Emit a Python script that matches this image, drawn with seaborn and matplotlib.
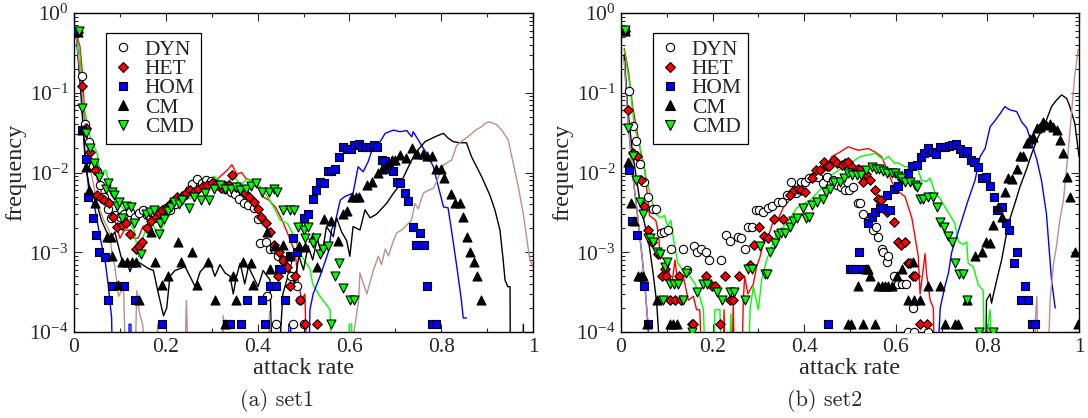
import matplotlib
matplotlib.use("Agg")
import matplotlib.pyplot as plt
import seaborn as sns
from matplotlib.lines import Line2D
from matplotlib.ticker import LogLocator, NullFormatter, MultipleLocator

# ---------------- data: (attack rate, frequency) ----------------
# zero-count bins of the simulation curves are given as 1e-5 (below the axis)
# ===== set1 : markers =====
s1_dyn = [(0.008,0.6),(0.017,0.16),(0.025,0.041),(0.033,0.024),(0.042,0.012),(0.051,0.0105),(0.057,0.007),
          (0.066,0.005),(0.074,0.0035),(0.080,0.0027),(0.090,0.0029),(0.100,0.0028),(0.110,0.0030),(0.123,0.0032),
          (0.132,0.0028),(0.141,0.0031),(0.151,0.0034),(0.160,0.0029),(0.170,0.0031),(0.180,0.0033),(0.190,0.0032),
          (0.200,0.0036),(0.210,0.0034),(0.220,0.0040),(0.230,0.0046),(0.240,0.0052),(0.250,0.0060),(0.258,0.0072),
          (0.267,0.0082),(0.278,0.0074),(0.288,0.0080),(0.298,0.0078),(0.308,0.0071),(0.318,0.0067),(0.328,0.0063),
          (0.341,0.0057),(0.350,0.0054),(0.360,0.0046),(0.370,0.0042),(0.378,0.0039),(0.392,0.0036),(0.400,0.0026),
          (0.405,0.0013),(0.418,0.00135),(0.420,0.00028),(0.428,0.0011),(0.436,0.0011),(0.440,0.000125),(0.445,0.0009),
          (0.455,0.0008),(0.465,0.00075),(0.472,0.0005),(0.478,0.000125),(0.485,0.000375),(0.492,0.00025),(0.500,0.000125)]
s1_het = [(0.008,0.58),(0.017,0.12),(0.026,0.036),(0.035,0.018),(0.045,0.0107),(0.051,0.0052),(0.058,0.0048),
          (0.066,0.0045),(0.076,0.0041),(0.086,0.0028),(0.094,0.0021),(0.104,0.0022),(0.113,0.0023),(0.122,0.0017),
          (0.134,0.0011),(0.142,0.0012),(0.149,0.00135),(0.158,0.0020),(0.168,0.0025),(0.178,0.0028),(0.185,0.0031),
          (0.192,0.0034),(0.200,0.0035),(0.210,0.0040),(0.218,0.0045),(0.225,0.0050),(0.235,0.0048),(0.245,0.0055),
          (0.252,0.0060),(0.262,0.0057),(0.270,0.0063),(0.280,0.0068),(0.290,0.0070),(0.300,0.0074),(0.310,0.0069),
          (0.320,0.0064),(0.330,0.0067),(0.338,0.0070),(0.345,0.0093),(0.352,0.0066),(0.362,0.0062),(0.372,0.0055),
          (0.382,0.0050),(0.392,0.0043),(0.400,0.0035),(0.407,0.0028),(0.418,0.0023),(0.428,0.0018),(0.436,0.00125),
          (0.445,0.0005),(0.447,0.0010),(0.456,0.0008),(0.465,0.00065),(0.471,0.000375),(0.482,0.0005),
          (0.492,0.00025),(0.503,0.000125),(0.529,0.000125)]
s1_hom = [(0.007,0.58),(0.017,0.034),(0.026,0.0147),(0.031,0.0050),(0.041,0.0027),(0.049,0.00165),(0.055,0.0010),
          (0.067,0.00087),(0.075,0.00025),(0.083,0.000375),(0.109,0.000375),(0.133,0.00025),(0.192,0.000125),
          (0.333,0.000125),(0.340,0.000125),(0.363,0.000125),(0.376,0.00025),(0.409,0.00025),(0.416,0.000125),
          (0.427,0.000375),(0.440,0.000375),(0.447,0.000625),(0.452,0.000625),(0.459,0.00025),(0.471,0.0009),
          (0.478,0.0015),(0.485,0.001),(0.500,0.0027),(0.510,0.0030),(0.520,0.0047),(0.527,0.0061),(0.537,0.0077),
          (0.545,0.0073),(0.554,0.0105),(0.561,0.0105),(0.569,0.0112),(0.578,0.0155),(0.585,0.021),(0.594,0.0195),
          (0.603,0.0195),(0.611,0.022),(0.620,0.0228),(0.628,0.021),(0.636,0.021),(0.645,0.021),(0.653,0.022),
          (0.660,0.021),(0.670,0.0145),(0.677,0.014),(0.687,0.011),(0.695,0.0105),(0.703,0.0077),(0.711,0.0073),
          (0.721,0.0056),(0.728,0.0044),(0.738,0.0021),(0.745,0.00125),(0.754,0.00175),(0.763,0.00125),
          (0.770,0.000375),(0.780,0.000125),(0.788,0.000125)]
s1_cm = [(0.008,0.58),(0.017,0.034),(0.026,0.0118),(0.033,0.006),(0.046,0.0041),(0.072,0.00157),(0.080,0.00157),
         (0.083,0.0009),(0.096,0.00039),(0.104,0.00076),(0.115,0.00076),(0.126,0.00076),(0.134,0.00076),
         (0.142,0.00025),(0.167,0.0018),(0.176,0.00076),(0.191,0.00039),(0.205,0.0005),(0.227,0.00135),
         (0.234,0.00076),(0.256,0.001),(0.268,0.00039),(0.292,0.00076),(0.307,0.00025),(0.330,0.000125),
         (0.347,0.0005),(0.353,0.00025),(0.369,0.00076),(0.385,0.00073),(0.390,0.00039),(0.420,0.0018),
         (0.428,0.000625),(0.438,0.0012),(0.455,0.00125),(0.468,0.0009),(0.490,0.0012),(0.503,0.00117),
         (0.521,0.00157),(0.529,0.00066),(0.545,0.0026),(0.561,0.0025),(0.576,0.0014),(0.587,0.003),(0.595,0.0033),
         (0.605,0.005),(0.614,0.005),(0.622,0.005),(0.638,0.007),(0.650,0.0075),(0.663,0.0099),(0.672,0.011),
         (0.682,0.0124),(0.692,0.0144),(0.700,0.0144),(0.710,0.0166),(0.724,0.015),(0.737,0.0202),(0.748,0.0173),
         (0.760,0.0173),(0.768,0.016),(0.779,0.016),(0.788,0.011),(0.799,0.011),(0.806,0.0085),(0.821,0.0054),
         (0.830,0.0041),(0.840,0.0041),(0.847,0.00275),(0.856,0.00157),(0.863,0.001),(0.871,0.00076),
         (0.879,0.0005),(0.886,0.00025)]
s1_cmd = [(0.010,0.6),(0.017,0.064),(0.026,0.031),(0.035,0.020),(0.044,0.013),(0.055,0.0089),(0.069,0.0063),
          (0.075,0.0073),(0.083,0.0057),(0.088,0.0052),(0.094,0.0038),(0.098,0.0043),(0.105,0.0027),(0.113,0.0038),
          (0.124,0.0037),(0.131,0.0023),(0.145,0.00096),(0.156,0.0030),(0.165,0.0032),(0.174,0.0034),(0.185,0.0017),
          (0.187,0.0023),(0.196,0.0026),(0.205,0.0033),(0.211,0.0037),(0.218,0.0043),(0.228,0.0040),(0.236,0.0045),
          (0.250,0.0036),(0.262,0.0050),(0.276,0.0045),(0.285,0.0055),(0.294,0.0045),(0.305,0.0062),(0.319,0.0070),
          (0.330,0.0062),(0.341,0.0062),(0.352,0.0065),(0.362,0.0060),(0.375,0.0063),(0.385,0.0068),(0.396,0.0073),
          (0.410,0.0057),(0.424,0.0057),(0.435,0.0062),(0.443,0.0057),(0.456,0.0034),(0.470,0.0034),(0.479,0.0034),
          (0.488,0.0021),(0.500,0.0019),(0.503,0.0015),(0.510,0.0021),(0.520,0.0013),(0.527,0.0015),(0.536,0.00096),
          (0.543,0.0011),(0.554,0.0012),(0.561,0.000125),(0.569,0.0005),(0.578,0.00073),(0.585,0.00036),
          (0.601,0.00025),(0.611,0.00025)]
# ===== set1 : curves =====
s1_red = [(0.005,0.55),(0.013,0.38),(0.019,0.16),(0.024,0.041),(0.030,0.025),(0.040,0.014),(0.050,0.0085),
          (0.065,0.0045),(0.080,0.0032),(0.091,0.0023),(0.100,0.0015),(0.110,0.0019),(0.120,0.0019),(0.130,0.0015),
          (0.140,0.0015),(0.150,0.0021),(0.165,0.0023),(0.180,0.0025),(0.195,0.0030),(0.210,0.0034),(0.230,0.0042),
          (0.250,0.0050),(0.270,0.0065),(0.290,0.0085),(0.310,0.0080),(0.334,0.0107),(0.344,0.0125),(0.355,0.0095),
          (0.365,0.0100),(0.374,0.0085),(0.385,0.0080),(0.395,0.0070),(0.403,0.0063),(0.410,0.0050),(0.425,0.0045),
          (0.440,0.0036),(0.454,0.0025),(0.465,0.00175),(0.476,0.0012),(0.482,0.0010),(0.488,0.00045),
          (0.496,0.00025),(0.503,0.0003),(0.510,1e-5)]
s1_green = [(0.005,0.55),(0.012,0.35),(0.020,0.074),(0.035,0.028),(0.051,0.017),(0.057,0.0098),(0.069,0.0107),
            (0.083,0.0057),(0.094,0.0043),(0.110,0.0034),(0.120,0.0023),(0.131,0.0019),(0.141,0.00087),
            (0.152,0.00165),(0.166,0.0025),(0.185,0.00165),(0.200,0.0025),(0.218,0.0038),(0.236,0.0045),
            (0.254,0.0048),(0.272,0.0055),(0.290,0.0066),(0.305,0.0090),(0.319,0.0078),(0.334,0.0075),(0.348,0.0090),
            (0.363,0.0070),(0.377,0.0083),(0.392,0.0075),(0.406,0.0066),(0.421,0.0050),(0.436,0.0036),(0.450,0.0025),
            (0.465,0.0023),(0.480,0.00157),(0.492,0.00096),(0.514,0.000625),(0.520,0.0004),(0.536,0.00028),
            (0.558,0.00019),(0.562,1e-5),(0.598,1e-5),(0.600,0.000125),(0.605,0.000125),(0.607,1e-5)]
s1_blue = [(0.005,0.5),(0.015,0.12),(0.024,0.0175),(0.033,0.0055),(0.045,0.0037),(0.054,0.0019),(0.062,0.0011),
           (0.069,0.0007),(0.075,0.00037),(0.082,0.00015),(0.085,1e-5),(0.118,1e-5),(0.120,0.000125),
           (0.124,0.000125),(0.126,1e-5),(0.466,1e-5),(0.468,0.000125),(0.472,0.000125),(0.474,1e-5),(0.510,1e-5),
           (0.514,0.00019),(0.521,0.0003),(0.536,0.0005),(0.554,0.0010),(0.561,0.0019),(0.570,0.0025),
           (0.580,0.0045),(0.590,0.0050),(0.608,0.0055),(0.619,0.0118),(0.630,0.0102),(0.641,0.0137),
           (0.649,0.0190),(0.659,0.0190),(0.667,0.0244),(0.678,0.031),(0.696,0.034),(0.710,0.0325),(0.725,0.0335),
           (0.736,0.028),(0.739,0.0325),(0.750,0.0256),(0.768,0.0174),(0.783,0.0118),(0.792,0.0073),(0.805,0.0037),
           (0.815,0.0036),(0.823,0.0018),(0.834,0.00066),(0.844,0.00025),(0.848,0.00015),(0.855,0.00015)]
s1_black = [(0.005,0.55),(0.015,0.10),(0.025,0.012),(0.035,0.006),(0.050,0.004),(0.060,0.0025),(0.071,0.0018),
            (0.080,0.0015),(0.089,0.0018),(0.097,0.00117),(0.108,0.00066),(0.115,0.00076),(0.122,0.00057),
            (0.129,0.00073),(0.144,0.00073),(0.162,0.000625),(0.173,0.00059),(0.184,0.0003),(0.195,0.00016),
            (0.202,0.0002),(0.209,0.0005),(0.220,0.00059),(0.242,0.00066),(0.264,0.00037),(0.275,0.00057),
            (0.296,0.00076),(0.307,0.0005),(0.318,0.0007),(0.329,0.00055),(0.340,0.0005),(0.347,0.0003),
            (0.354,0.0005),(0.362,0.00073),(0.372,0.0004),(0.380,0.00066),(0.401,0.00037),(0.412,0.00059),
            (0.427,0.00045),(0.434,1e-5),(0.440,1e-5),(0.455,0.0003),(0.470,0.0006),(0.480,0.0004),(0.490,0.0009),
            (0.500,0.0006),(0.510,0.0012),(0.520,0.0008),(0.530,0.0015),(0.540,0.0009),(0.550,0.0021),
            (0.565,0.00157),(0.572,0.0027),(0.583,0.0018),(0.594,0.0014),(0.601,0.00089),(0.608,0.0021),
            (0.623,0.0019),(0.634,0.0034),(0.645,0.0027),(0.659,0.0030),(0.681,0.0041),(0.696,0.0055),(0.710,0.0070),
            (0.725,0.0107),(0.743,0.0174),(0.765,0.0244),(0.786,0.028),(0.805,0.031),(0.815,0.027),(0.826,0.0244),
            (0.840,0.0236),(0.855,0.0236),(0.866,0.0158),(0.888,0.0089),(0.906,0.0052),(0.917,0.0034),
            (0.928,0.0019),(0.935,0.0008),(0.939,0.00045),(0.945,0.00037),(0.950,0.00037),(0.951,1e-5),
            (0.977,1e-5),(0.979,0.000125),(0.981,1e-5)]
s1_brown = [(0.005,0.5),(0.015,0.15),(0.025,0.03),(0.036,0.0107),(0.051,0.0041),(0.065,0.0025),(0.076,0.0019),
            (0.083,0.00096),(0.089,0.00066),(0.097,0.00028),(0.108,0.00037),(0.115,1e-5),(0.130,1e-5),
            (0.137,0.00033),(0.142,0.00018),(0.150,0.00012),(0.160,1e-5),(0.178,1e-5),(0.182,0.000125),
            (0.186,1e-5),(0.238,1e-5),(0.245,0.00025),(0.252,1e-5),(0.320,1e-5),(0.325,0.00016),(0.330,1e-5),
            (0.420,1e-5),(0.426,0.00018),(0.431,1e-5),(0.605,1e-5),(0.610,0.0001),(0.620,0.00025),(0.623,0.00055),
            (0.638,0.0003),(0.652,0.00059),(0.663,0.00089),(0.670,0.0007),(0.678,0.0011),(0.685,0.0009),
            (0.696,0.0014),(0.703,0.00175),(0.714,0.0019),(0.725,0.0022),(0.735,0.0025),(0.743,0.0041),
            (0.750,0.0035),(0.761,0.0055),(0.772,0.0060),(0.783,0.0063),(0.795,0.0090),(0.805,0.0124),
            (0.815,0.0135),(0.823,0.0144),(0.834,0.022),(0.850,0.026),(0.863,0.0295),(0.875,0.034),(0.888,0.0375),
            (0.898,0.042),(0.906,0.043),(0.920,0.040),(0.932,0.034),(0.946,0.0256),(0.957,0.013),(0.968,0.0066),
            (0.979,0.003),(0.993,0.0008),(1.000,0.00066)]

# ===== set2 : markers =====
s2_dyn = [(0.008,0.6),(0.0175,0.106),(0.0255,0.038),(0.033,0.0245),(0.042,0.0127),(0.051,0.0077),(0.060,0.0049),
          (0.069,0.0035),(0.076,0.0035),(0.087,0.00175),(0.094,0.0018),(0.102,0.0019),(0.109,0.0011),(0.135,0.0011),
          (0.144,0.0006),(0.159,0.0012),(0.167,0.001),(0.175,0.0011),(0.186,0.001),(0.193,0.0008),(0.218,0.0008),
          (0.229,0.00165),(0.237,0.0014),(0.255,0.00157),(0.262,0.0015),(0.270,0.0011),(0.277,0.0021),
          (0.285,0.0021),(0.295,0.0034),(0.302,0.0034),(0.310,0.0032),(0.320,0.0036),(0.330,0.0038),(0.342,0.0043),
          (0.352,0.0043),(0.363,0.0052),(0.371,0.0077),(0.383,0.0055),(0.393,0.0077),(0.402,0.0077),(0.410,0.0085),
          (0.420,0.0088),(0.430,0.0088),(0.442,0.0073),(0.449,0.0089),(0.462,0.0080),(0.471,0.0070),(0.480,0.0065),
          (0.489,0.0060),(0.498,0.0060),(0.507,0.0066),(0.518,0.0041),(0.522,0.0041),(0.529,0.0030),(0.540,0.0025),
          (0.551,0.0019),(0.556,0.0021),(0.562,0.00157),(0.569,0.0011),(0.573,0.0010),(0.580,0.00075),
          (0.584,0.0009),(0.596,0.0005),(0.605,0.0004),(0.613,0.0004),(0.622,0.0004),(0.627,0.0001),(0.638,0.0002),
          (0.640,0.0001),(0.671,0.0001)]
s2_het = [(0.008,0.6),(0.016,0.06),(0.0255,0.0177),(0.036,0.016),(0.044,0.008),(0.051,0.0038),(0.060,0.0019),
          (0.068,0.00135),(0.080,0.00096),(0.089,0.0005),(0.095,0.000625),(0.098,0.0005),(0.107,0.00025),
          (0.118,0.00025),(0.127,0.0005),(0.132,0.00025),(0.154,0.000125),(0.158,0.000125),(0.186,0.0005),
          (0.198,0.000375),(0.205,0.000375),(0.216,0.000125),(0.227,0.0005),(0.237,0.00025),(0.245,0.00025),
          (0.258,0.0005),(0.282,0.0007),(0.291,0.00125),(0.302,0.0021),(0.312,0.0016),(0.320,0.0015),(0.335,0.0026),
          (0.353,0.0026),(0.368,0.0052),(0.378,0.0060),(0.386,0.0062),(0.394,0.0060),(0.402,0.0057),(0.418,0.0085),
          (0.426,0.0107),(0.435,0.0107),(0.444,0.0137),(0.449,0.012),(0.455,0.012),(0.464,0.0144),(0.472,0.013),
          (0.482,0.0124),(0.490,0.013),(0.495,0.0137),(0.504,0.0118),(0.518,0.0112),(0.522,0.0107),(0.529,0.0077),
          (0.535,0.0095),(0.544,0.008),(0.555,0.006),(0.562,0.0047),(0.568,0.0045),(0.580,0.0032),(0.597,0.0024),
          (0.605,0.00135),(0.612,0.00125),(0.619,0.00135),(0.627,0.00073),(0.630,0.00073),(0.638,0.0005),
          (0.643,0.0005),(0.653,0.000125),(0.668,0.000125)]
s2_hom = [(0.008,0.6),(0.018,0.0107),(0.025,0.0025),(0.034,0.00165),(0.050,0.000375),(0.060,0.000125),
          (0.453,0.000125),(0.500,0.000625),(0.504,0.000625),(0.513,0.000625),(0.520,0.001),(0.529,0.000625),
          (0.539,0.0023),(0.547,0.0028),(0.555,0.0032),(0.565,0.0036),(0.572,0.0036),(0.580,0.0052),(0.587,0.0034),
          (0.595,0.0063),(0.604,0.0068),(0.615,0.0082),(0.627,0.0098),(0.635,0.012),(0.646,0.0124),(0.655,0.0158),
          (0.662,0.0174),(0.671,0.020),(0.680,0.0182),(0.687,0.017),(0.697,0.0206),(0.707,0.0206),(0.716,0.0215),
          (0.723,0.022),(0.731,0.0228),(0.740,0.0195),(0.747,0.0176),(0.756,0.0186),(0.764,0.0144),(0.771,0.0135),
          (0.780,0.0117),(0.789,0.0085),(0.798,0.0087),(0.806,0.0068),(0.815,0.005),(0.822,0.0034),(0.831,0.0037),
          (0.840,0.0023),(0.847,0.0019),(0.857,0.00073),(0.864,0.001),(0.873,0.00025),(0.882,0.000375),
          (0.888,0.00025),(0.897,0.000125),(0.903,0.000125)]
s2_cm = [(0.008,0.6),(0.0146,0.0137),(0.022,0.0042),(0.029,0.0025),(0.038,0.0005),(0.044,0.0005),(0.049,0.0005),
         (0.057,0.000125),(0.078,0.00025),(0.107,0.000125),(0.114,0.000125),(0.122,0.000125),(0.496,0.000125),
         (0.502,0.000125),(0.518,0.000375),(0.529,0.000125),(0.536,0.000625),(0.540,0.000625),(0.544,0.0005),
         (0.555,0.000125),(0.562,0.000375),(0.569,0.000375),(0.576,0.000375),(0.584,0.000375),(0.591,0.000375),
         (0.602,0.0005),(0.613,0.000625),(0.627,0.00025),(0.638,0.00076),(0.640,0.00025),(0.653,0.00025),
         (0.671,0.000375),(0.697,0.000375),(0.707,0.000125),(0.729,0.000125),(0.736,0.000125),(0.755,0.00025),
         (0.773,0.0009),(0.788,0.001),(0.798,0.00135),(0.805,0.0013),(0.813,0.0022),(0.824,0.0037),(0.831,0.0028),
         (0.838,0.0057),(0.846,0.0085),(0.854,0.0082),(0.864,0.0112),(0.871,0.016),(0.878,0.016),(0.886,0.0233),
         (0.893,0.026),(0.900,0.028),(0.908,0.0357),(0.915,0.0375),(0.922,0.043),(0.929,0.039),(0.937,0.041),
         (0.944,0.0375),(0.951,0.034),(0.959,0.0256),(0.966,0.0174),(0.973,0.0089),(0.980,0.005),(0.991,0.001),
         (0.998,0.000125)]
s2_cmd = [(0.008,0.62),(0.016,0.036),(0.0255,0.016),(0.033,0.008),(0.042,0.0043),(0.049,0.003),(0.060,0.0015),
          (0.063,0.0015),(0.069,0.00135),(0.078,0.001),(0.086,0.00096),(0.092,0.00025),(0.095,0.00066),
          (0.100,0.00076),(0.107,0.0004),(0.116,0.0004),(0.125,0.0004),(0.136,0.00025),(0.142,0.00055),
          (0.154,0.0001),(0.165,0.00032),(0.180,0.0004),(0.188,0.0004),(0.209,0.00032),(0.220,0.00025),
          (0.238,0.00032),(0.247,0.00032),(0.270,0.00025),(0.277,0.000625),(0.285,0.000625),(0.303,0.0012),
          (0.314,0.00054),(0.318,0.00054),(0.325,0.001),(0.336,0.0013),(0.343,0.00165),(0.349,0.00175),
          (0.357,0.00175),(0.368,0.0021),(0.375,0.0025),(0.384,0.0027),(0.397,0.0036),(0.405,0.0027),(0.411,0.0028),
          (0.418,0.0039),(0.429,0.0043),(0.440,0.0047),(0.448,0.0057),(0.456,0.0063),(0.465,0.0077),(0.478,0.0077),
          (0.487,0.0085),(0.496,0.0098),(0.505,0.0092),(0.515,0.0093),(0.525,0.0092),(0.536,0.0107),(0.547,0.0118),
          (0.556,0.0112),(0.564,0.0112),(0.573,0.0105),(0.580,0.0099),(0.591,0.0098),(0.598,0.0098),(0.605,0.009),
          (0.612,0.0085),(0.620,0.0077),(0.631,0.0075),(0.642,0.007),(0.647,0.0065),(0.653,0.0047),(0.660,0.0047),
          (0.671,0.0049),(0.682,0.0049),(0.689,0.0037),(0.697,0.0024),(0.706,0.0021),(0.715,0.0016),(0.722,0.00135),
          (0.729,0.00073),(0.739,0.00054),(0.746,0.00054),(0.755,0.00025),(0.782,0.0001),(0.813,0.0001)]
# ===== set2 : curves =====
s2_red = [(0.007,0.36),(0.016,0.19),(0.0255,0.067),(0.041,0.021),(0.052,0.0107),(0.058,0.005),(0.062,0.0029),
          (0.076,0.0025),(0.082,0.0017),(0.085,0.0009),(0.100,0.00076),(0.111,0.0004),(0.118,0.0008),
          (0.125,0.00035),(0.136,0.0005),(0.147,0.00025),(0.158,0.00028),(0.165,0.00019),(0.172,0.00019),
          (0.180,1e-5),(0.220,1e-5),(0.225,0.00019),(0.230,1e-5),(0.240,1e-5),(0.245,0.00022),(0.250,1e-5),
          (0.262,1e-5),(0.267,0.00025),(0.270,0.0005),(0.277,0.0003),(0.289,0.0004),(0.296,0.00066),
          (0.303,0.00085),(0.314,0.00157),(0.322,0.0016),(0.333,0.0025),(0.343,0.0026),(0.354,0.0036),
          (0.365,0.0043),(0.378,0.0055),(0.397,0.0066),(0.418,0.008),(0.444,0.0107),(0.460,0.0158),(0.478,0.018),
          (0.496,0.021),(0.518,0.019),(0.540,0.020),(0.555,0.018),(0.569,0.0158),(0.580,0.0112),(0.591,0.0077),
          (0.602,0.006),(0.620,0.005),(0.635,0.0027),(0.642,0.00157),(0.649,0.00089),(0.653,0.0003),
          (0.660,0.000625),(0.664,0.00096),(0.667,0.00055),(0.675,0.00025),(0.682,0.0002),(0.686,1e-5)]
s2_green = [(0.007,0.34),(0.0175,0.145),(0.030,0.036),(0.040,0.023),(0.045,0.016),(0.055,0.0085),(0.066,0.0047),
            (0.076,0.003),(0.087,0.0027),(0.095,0.0029),(0.102,0.0021),(0.109,0.0025),(0.116,0.0013),
            (0.124,0.00073),(0.135,0.0006),(0.150,0.0005),(0.162,0.0004),(0.172,0.00028),(0.180,0.00019),
            (0.187,1e-5),(0.200,1e-5),(0.205,0.00019),(0.216,0.00019),(0.222,1e-5),(0.235,1e-5),(0.240,0.00017),
            (0.245,1e-5),(0.275,1e-5),(0.282,0.0002),(0.289,0.00037),(0.300,0.00019),(0.307,0.00045),
            (0.318,0.0008),(0.329,0.00117),(0.340,0.00175),(0.362,0.0023),(0.384,0.0036),(0.413,0.0045),
            (0.434,0.006),(0.456,0.009),(0.478,0.011),(0.500,0.013),(0.522,0.0158),(0.540,0.0166),(0.555,0.0174),
            (0.573,0.0144),(0.584,0.0158),(0.598,0.013),(0.605,0.0132),(0.620,0.0118),(0.631,0.012),(0.646,0.0124),
            (0.656,0.008),(0.667,0.0077),(0.675,0.0085),(0.686,0.0055),(0.697,0.0047),(0.707,0.0037),
            (0.722,0.0027),(0.729,0.0023),(0.737,0.00135),(0.747,0.00125),(0.755,0.00135),(0.758,0.00073),
            (0.769,0.00066),(0.780,0.00039),(0.791,0.00033),(0.795,1e-5),(0.802,0.00014),(0.806,0.00019),(0.810,1e-5)]
s2_blue = [(0.007,0.28),(0.015,0.05),(0.025,0.01),(0.034,0.0037),(0.045,0.001),(0.052,0.0004),(0.060,0.0001),
           (0.062,1e-5),(0.686,1e-5),(0.697,0.0002),(0.707,0.00037),(0.715,0.00055),(0.722,0.001),(0.733,0.00157),
           (0.744,0.0025),(0.758,0.0045),(0.773,0.008),(0.784,0.0158),(0.795,0.020),(0.806,0.0375),(0.817,0.045),
           (0.828,0.055),(0.838,0.067),(0.849,0.061),(0.864,0.058),(0.875,0.043),(0.886,0.036),(0.897,0.023),
           (0.908,0.0144),(0.918,0.008),(0.929,0.003),(0.940,0.00045),(0.948,0.0002)]
s2_black = [(0.007,0.30),(0.015,0.06),(0.025,0.018),(0.035,0.0075),(0.041,0.0045),(0.050,0.0025),(0.060,0.0014),
            (0.070,0.00055),(0.078,0.00023),(0.082,0.0001),(0.084,1e-5),(0.795,1e-5),(0.798,0.00025),
            (0.806,0.0003),(0.809,0.00023),(0.817,0.00037),(0.831,0.0008),(0.846,0.0023),(0.860,0.0041),
            (0.871,0.0066),(0.886,0.0112),(0.897,0.0174),(0.911,0.028),(0.926,0.041),(0.940,0.067),(0.951,0.081),
            (0.962,0.094),(0.973,0.085),(0.980,0.067),(0.991,0.041),(1.000,0.0158)]
s2_brown = [(0.007,0.25),(0.015,0.05),(0.025,0.01),(0.034,0.0037),(0.045,0.001),(0.052,0.0004),(0.058,0.00015),
            (0.060,1e-5),(0.900,1e-5),(0.905,0.00015),(0.908,0.00028),(0.912,1e-5),(0.929,1e-5),(0.937,0.00025),
            (0.944,0.0007),(0.951,0.0012),(0.958,0.0025),(0.966,0.0045),(0.975,0.015),(0.983,0.05),(0.990,0.15),
            (0.998,0.35)]

legend_labels = ["DYN", "HET", "HOM", "CM", "CMD"]
x_ticks = [0, 0.2, 0.4, 0.6, 0.8, 1.0]
x_tick_labels = ["0", "0.2", "0.4", "0.6", "0.8", "1"]
captions = ["(a) set1", "(b) set2"]

# ---------------- style ----------------
RED, GREEN, BLUE, BLACK, BROWN = "#ff0000", "#00ff00", "#0000ff", "#000000", "#bc8f8f"
sns.set_style("ticks")
plt.rcParams.update({
    "font.family": ["Liberation Serif", "DejaVu Serif"],
    "mathtext.fontset": "stix",
    "axes.linewidth": 1.0,
    "xtick.direction": "in", "ytick.direction": "in",
    "xtick.top": True, "ytick.right": True,
    "xtick.major.size": 6, "ytick.major.size": 6,
    "xtick.minor.size": 3, "ytick.minor.size": 3,
    "xtick.major.width": 0.8, "ytick.major.width": 0.8,
    "xtick.minor.width": 0.8, "ytick.minor.width": 0.8,
    "axes.edgecolor": "black",
})

marker_styles = [
    dict(marker="o", color="white", s=36),
    dict(marker="D", color=RED, s=24),
    dict(marker="s", color=BLUE, s=28),
    dict(marker="^", color=BLACK, s=42),
    dict(marker="v", color=GREEN, s=42),
]

fig = plt.figure(figsize=(10.88, 4.18), dpi=100)
ax1 = fig.add_axes([74/1088, 86/418, 459/1088, 319/418])
ax2 = fig.add_axes([621/1088, 86/418, 458/1088, 319/418])

panels = [
    (ax1, [s1_red, s1_green, s1_blue, s1_black, s1_brown], [s1_dyn, s1_het, s1_hom, s1_cm, s1_cmd]),
    (ax2, [s2_red, s2_green, s2_blue, s2_black, s2_brown], [s2_dyn, s2_het, s2_hom, s2_cm, s2_cmd]),
]
line_colors = [RED, GREEN, BLUE, BLACK, BROWN]

for ax, curves, marks in panels:
    ax.set_yscale("log")
    for data, c in zip(curves, line_colors):
        xs, ys = zip(*data)
        sns.lineplot(x=list(xs), y=list(ys), ax=ax, color=c, lw=1.0,
                     estimator=None, sort=False, legend=False, zorder=2)
    for data, st in zip(marks, marker_styles):
        xs, ys = zip(*data)
        sns.scatterplot(x=list(xs), y=list(ys), ax=ax, marker=st["marker"], s=st["s"],
                        color=st["color"], edgecolor="black", linewidth=0.8,
                        legend=False, zorder=3)
    ax.set_xlim(0, 1)
    ax.set_ylim(1e-4, 1)
    ax.set_xticks(x_ticks, x_tick_labels)
    ax.xaxis.set_minor_locator(MultipleLocator(0.1))
    ax.yaxis.set_major_locator(LogLocator(base=10, numticks=10))
    ax.yaxis.set_minor_locator(LogLocator(base=10, subs=range(2, 10), numticks=10))
    ax.yaxis.set_minor_formatter(NullFormatter())
    ax.tick_params(axis="both", which="both", labelsize=15.5, pad=4)
    ax.set_xlabel("attack rate", fontsize=17.5, labelpad=1)
    ax.set_ylabel("frequency", fontsize=17.5, labelpad=2)
    for sp in ax.spines.values():
        sp.set_visible(True)
        sp.set_linewidth(1.0)
    handles = [Line2D([], [], ls="none", marker=st["marker"], mfc=st["color"], mec="black",
                      mew=0.8, ms=(st["s"] ** 0.5)) for st in marker_styles]
    leg = ax.legend(handles, legend_labels, loc="upper left", bbox_to_anchor=(0.07, 0.937),
                    fontsize=15.5, frameon=True, fancybox=False, framealpha=1, edgecolor="black",
                    borderaxespad=0, borderpad=0.3, labelspacing=-0.03, handlelength=1.0,
                    handletextpad=0.5)
    leg.get_frame().set_linewidth(0.9)

fig.text(276.5/1088, 1 - 400/418, captions[0], ha="center", va="center", fontsize=16, family="cmr10")
fig.text(824.5/1088, 1 - 400/418, captions[1], ha="center", va="center", fontsize=16, family="cmr10")

fig.savefig("out.png", dpi=100)
